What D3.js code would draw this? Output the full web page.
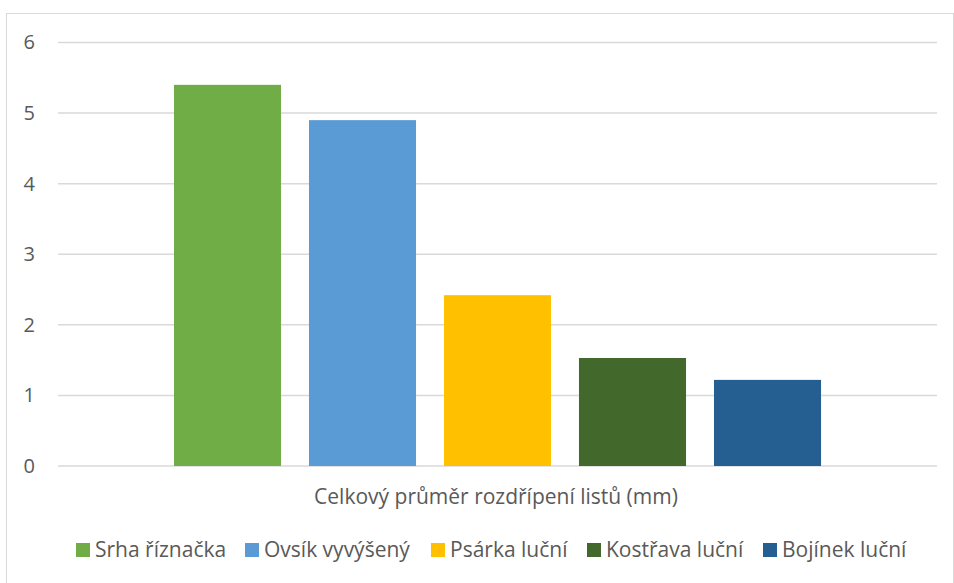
<!DOCTYPE html>
<html>
<head>
<meta charset="utf-8">
<script src="https://cdn.jsdelivr.net/npm/d3@7"></script>
<style>
  body { margin: 0; background: #fff; }
  text { font-family: "Open Sans", "Noto Sans", sans-serif; fill: #595959; }
</style>
</head>
<body>
<div id="chart"></div>
<script>
// data
var category = "Celkový průměr rozdřípení listů (mm)";
var series = ["Srha říznačka", "Ovsík vyvýšený", "Psárka luční", "Kostřava luční", "Bojínek luční"];
var values = [5.4, 4.9, 2.42, 1.53, 1.22];
var colors = ["#70ad47", "#5b9bd5", "#ffc000", "#43682b", "#255e91"];
var yTicks = [0, 1, 2, 3, 4, 5, 6];

var width = 954, height = 583;
var plot = { left: 58, right: 937, top: 42.5, bottom: 466 };

var svg = d3.select("#chart")
  .append("svg")
  .attr("width", width)
  .attr("height", height);

// chart border
svg.append("rect")
  .attr("x", 6.5)
  .attr("y", 13.5)
  .attr("width", 947)
  .attr("height", 600)
  .style("fill", "none")
  .style("stroke", "#d9d9d9")
  .style("stroke-width", 1);

var y = d3.scaleLinear().domain([0, 6]).range([plot.bottom, plot.top]);

var x = d3.scaleBand()
  .domain(series)
  .range([plot.left, plot.right])
  .paddingInner(0.207)
  .paddingOuter(0.859);

// gridlines
svg.append("g")
  .selectAll("line")
  .data(yTicks)
  .enter().append("line")
  .attr("x1", plot.left)
  .attr("x2", plot.right)
  .attr("y1", function(d) { return y(d); })
  .attr("y2", function(d) { return y(d); })
  .style("stroke", "#d9d9d9")
  .style("stroke-width", 1.5);

// y axis labels
var yAxis = d3.axisLeft(y).tickValues(yTicks).tickSize(0).tickPadding(0).tickFormat(d3.format("d"));
var ya = svg.append("g")
  .attr("transform", "translate(35,0)")
  .call(yAxis);
ya.select(".domain").remove();
ya.selectAll("text")
  .style("font-size", "20px")
  .style("fill", "#595959")
  .style("font-family", "'Open Sans', sans-serif");

// bars
svg.append("g")
  .selectAll("rect")
  .data(series)
  .enter().append("rect")
  .attr("x", function(d) { return x(d); })
  .attr("y", function(d, i) { return y(values[i]); })
  .attr("width", x.bandwidth())
  .attr("height", function(d, i) { return y(0) - y(values[i]); })
  .style("fill", function(d, i) { return colors[i]; });

// category label
svg.append("text")
  .attr("x", 496)
  .attr("y", 497)
  .attr("dy", ".35em")
  .attr("text-anchor", "middle")
  .style("font-size", "21px")
  .text(category);

// legend
var legendX = [76, 245, 431, 587, 763];
var legend = svg.append("g")
  .selectAll("g")
  .data(series)
  .enter().append("g")
  .attr("transform", function(d, i) { return "translate(" + legendX[i] + ",550)"; });

legend.append("rect")
  .attr("x", 0)
  .attr("y", -7)
  .attr("width", 14)
  .attr("height", 14)
  .style("fill", function(d, i) { return colors[i]; });

legend.append("text")
  .attr("x", 19)
  .attr("y", 0)
  .attr("dy", ".35em")
  .style("font-size", "21px")
  .text(function(d) { return d; });
</script>
</body>
</html>
